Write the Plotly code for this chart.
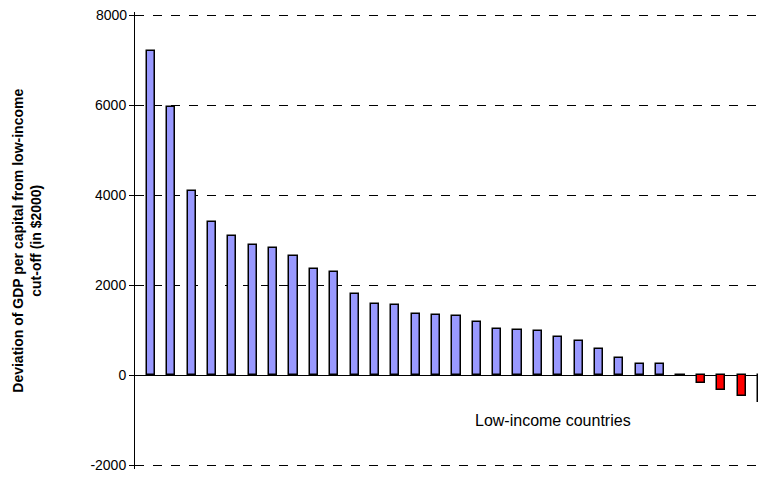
import plotly.graph_objects as go

values = [7200, 5950, 4080, 3400, 3080, 2880, 2830, 2640, 2350, 2290,
          1800, 1580, 1550, 1360, 1340, 1320, 1170, 1020, 1000, 970,
          840, 760, 580, 370, 250, 240, -20, -180, -330, -470, -600]
countries = list(range(len(values)))
colors = ["#9999ff" if v > 0 else "#ff0000" for v in values]
colors[26] = "#000000"
tick_vals = [-2000, 0, 2000, 4000, 6000, 8000]
tick_text = ["-2000", "0", "2000", "4000", "6000", ""]

fig = go.Figure()
fig.add_trace(go.Bar(
    x=countries, y=values, width=0.4,
    marker=dict(color=colors, line=dict(color="black", width=1.5)),
))
fig.add_annotation(x=0.78, y=-1000, xref="paper", yref="y", text="Low-income countries",
                   showarrow=False, font=dict(size=16, color="black"))
# top tick label drawn separately, plotly hides it so close to the edge
fig.add_annotation(x=0, y=tick_vals[-1], xref="paper", yref="y", text=str(tick_vals[-1]),
                   xanchor="right", xshift=-6, showarrow=False,
                   font=dict(size=14, color="black"))
fig.add_annotation(x=-0.20, y=0.5, xref="paper", yref="paper", textangle=-90,
                   text="Deviation of GDP per capital from low-income<br>cut-off (in $2000)",
                   showarrow=False, font=dict(size=14, color="black", weight="bold"))
fig.update_layout(
    width=766, height=479, margin=dict(l=127, r=0, t=4, b=18, autoexpand=False),
    plot_bgcolor="white", paper_bgcolor="white", showlegend=False,
    font=dict(family="Arial, Liberation Sans", color="black", size=14),
    bargap=0,
)
fig.update_xaxes(range=[-0.78, 30.59], showticklabels=False, showgrid=False,
                 zeroline=False)
fig.update_yaxes(range=[-2089, 8067], tickvals=tick_vals, ticktext=tick_text,
                 showline=True, linecolor="black",
                 ticks="outside", ticklen=5, tickcolor="black",
                 gridcolor="black", griddash="dash", gridwidth=0.7,
                 zeroline=True, zerolinecolor="black", zerolinewidth=1)
fig.write_html("out.html")
